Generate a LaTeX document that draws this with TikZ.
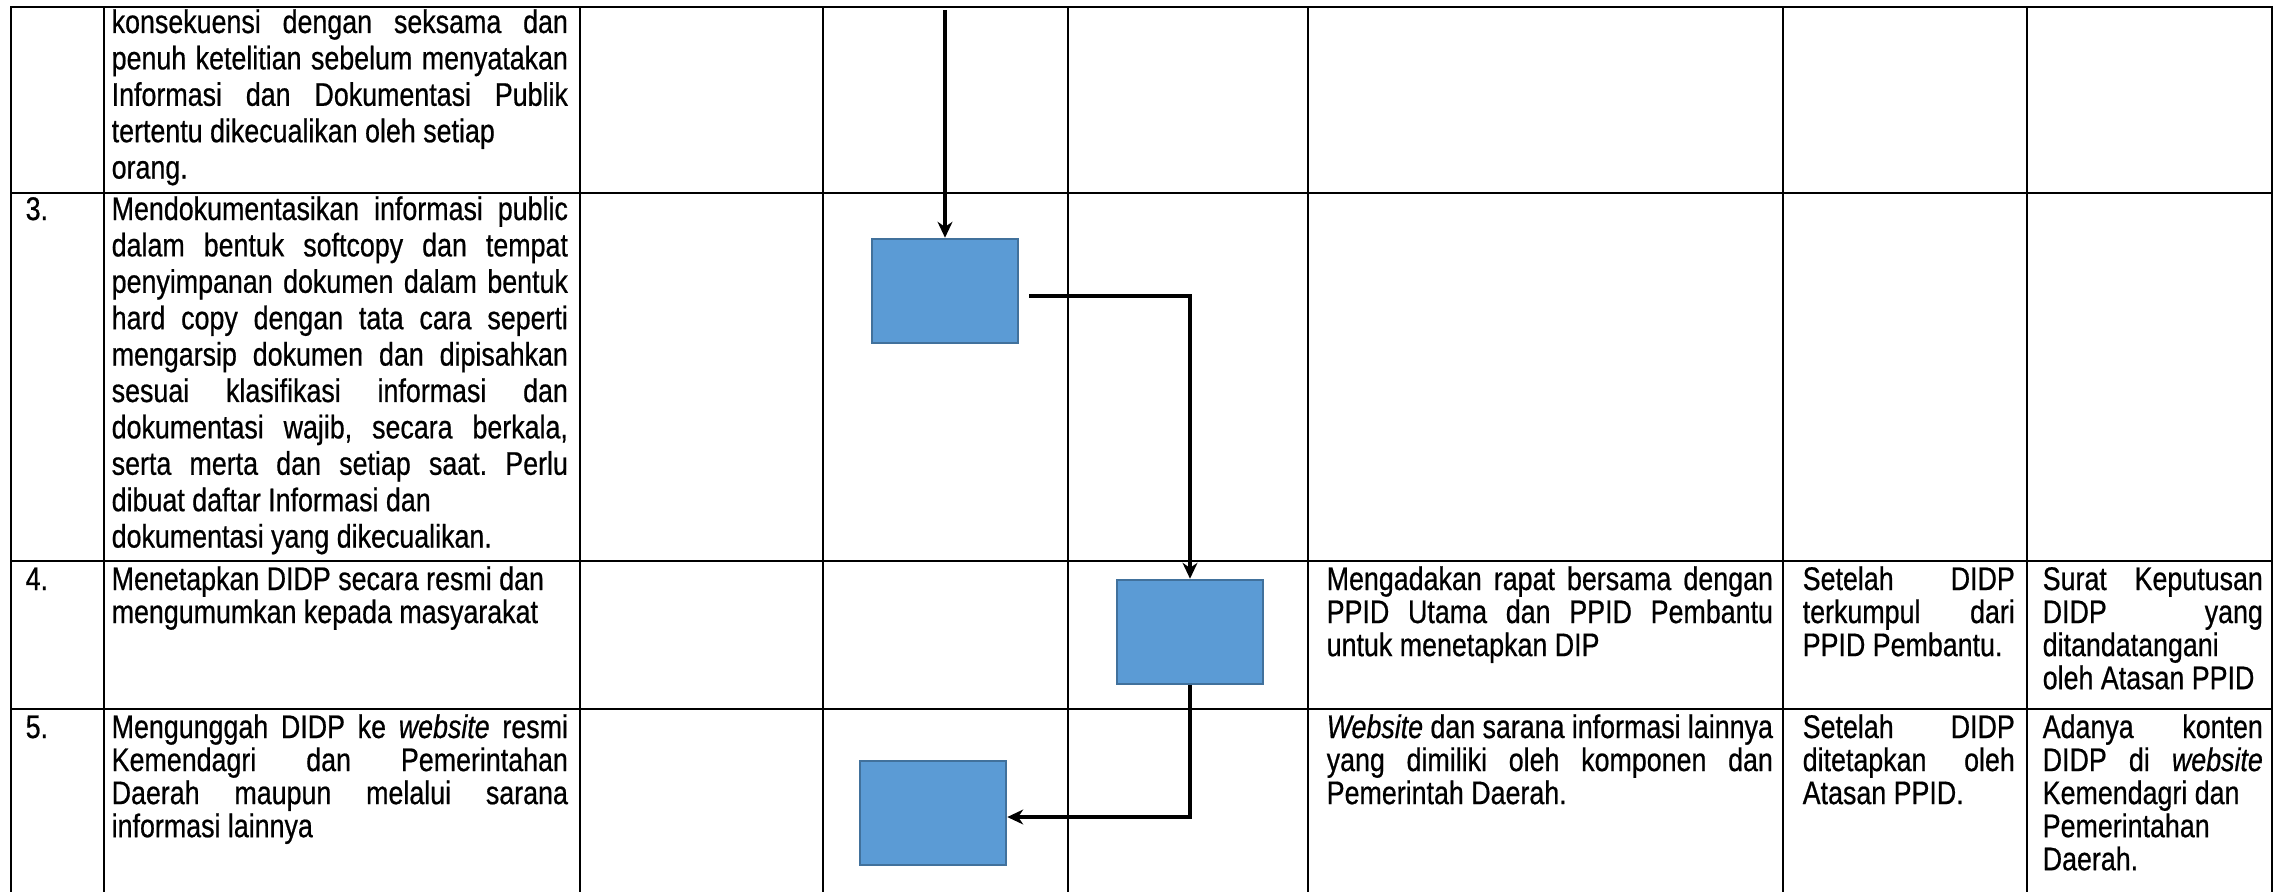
\documentclass[tikz,border=0pt]{standalone}
\usepackage{fontspec}
\setmainfont{Liberation Sans}[FakeStretch=0.82, FakeBold=0.6]
\usetikzlibrary{arrows.meta, positioning, calc}

\definecolor{stepfill}{HTML}{5B9BD5}
\definecolor{stepedge}{HTML}{41719C}

\tikzset{
    tabline/.style={line width=0.7pt, line cap=rect},
    num/.style={anchor=base west, inner sep=0pt, font=\fontsize{9.3}{10.35}\selectfont},
    cell/.style={anchor=base west, inner sep=0pt, align=justify, font=\fontsize{9.3}{10.35}\selectfont\frenchspacing},
    tight/.style={font=\fontsize{9.3}{9.4}\selectfont\frenchspacing},
    stepbox/.style={draw=stepedge, line width=0.7pt, fill=stepfill, minimum width=1.46cm, minimum height=1.04cm, inner sep=0pt},
    flow/.style={line width=1.1pt, >={Stealth[length=4.5pt, width=4.2pt, inset=1.4pt]}},
}
\tolerance=10000
\hbadness=10000

\begin{document}
\begin{tikzpicture}[x=0.01cm, y=-0.01cm]
        \useasboundingbox (0,0) rectangle (2286,891);

        % table rules
        \foreach \x in {11,104,580,823,1068,1308,1783,2027,2272}
            \draw[tabline] (\x,7) -- (\x,891);
        \foreach \y in {7,193,561,709}
            \draw[tabline] (11,\y) -- (2272,\y);

        % row numbers
        \foreach \n/\y in {3/220, 4/590, 5/738}
            \node[num] (no\n) at (25,\y) {\n.};

        % kegiatan
        \node[cell, text width=4.56cm] (keg2) at (111,33) {konsekuensi dengan seksama dan\linebreak penuh ketelitian sebelum menyatakan\linebreak Informasi dan Dokumentasi Publik\linebreak tertentu dikecualikan oleh setiap\\ orang.};
        \node[cell, text width=4.56cm] (keg3) at (111,220) {Mendokumentasikan informasi public\linebreak dalam bentuk softcopy dan tempat\linebreak penyimpanan dokumen dalam bentuk\linebreak hard copy dengan tata cara seperti\linebreak mengarsip dokumen dan dipisahkan\linebreak sesuai klasifikasi informasi dan\linebreak dokumentasi wajib, secara berkala,\linebreak serta merta dan setiap saat. Perlu\linebreak dibuat daftar Informasi dan\\ dokumentasi yang dikecualikan.};
        \node[cell, tight, text width=4.56cm] (keg4) at (111,590) {Menetapkan DIDP secara resmi dan\\ mengumumkan kepada masyarakat};
        \node[cell, tight, text width=4.56cm] (keg5) at (111,738) {Mengunggah DIDP ke \textit{website} resmi\linebreak Kemendagri dan Pemerintahan\linebreak Daerah maupun melalui sarana\linebreak informasi lainnya};

        % kelengkapan, waktu, output
        \node[cell, tight, text width=4.46cm] (kel4) at (1326,590) {Mengadakan rapat bersama dengan\linebreak PPID Utama dan PPID Pembantu\linebreak untuk menetapkan DIP};
        \node[cell, tight, text width=4.46cm] (kel5) at (1326,738) {\textit{Website} dan sarana informasi lainnya\linebreak yang dimiliki oleh komponen dan\linebreak Pemerintah Daerah.};
        \node[cell, tight, text width=2.12cm] (wkt4) at (1802,590) {Setelah DIDP\linebreak terkumpul dari\linebreak PPID Pembantu.};
        \node[cell, tight, text width=2.12cm] (wkt5) at (1802,738) {Setelah DIDP\linebreak ditetapkan oleh\linebreak Atasan PPID.};
        \node[cell, tight, text width=2.2cm] (out4) at (2042,590) {Surat Keputusan\linebreak DIDP yang\linebreak ditandatangani\\ oleh Atasan PPID};
        \node[cell, tight, text width=2.2cm] (out5) at (2042,738) {Adanya konten\linebreak DIDP di \textit{website}\linebreak Kemendagri dan\\ Pemerintahan\\ Daerah.};

        % process boxes
        \node[stepbox] (b3) at (945,291) {};
        \node[stepbox] (b4) at (1190,632) {};
        \node[stepbox] (b5) at (933,813) {};
        \coordinate (in3) at (945,10);

        % connectors
        \draw[flow, ->] (in3) -- (b3.north);
        \draw[flow, ->, shorten <=0.1cm] ([yshift=-0.05cm]b3.east) -| (b4.north);
        \draw[flow, ->] (b4.south) |- ([yshift=-0.04cm]b5.east);

\end{tikzpicture}
\end{document}
